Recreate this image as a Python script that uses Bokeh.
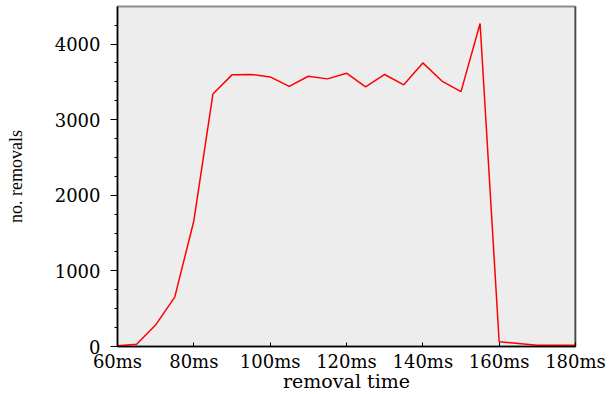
from bokeh.plotting import figure
from bokeh.models import Range1d, SingleIntervalTicker, Span
from bokeh.embed import file_html
from bokeh.resources import INLINE

# data
removal_time_ms = [60, 65, 70, 75, 80, 85, 90, 95, 100, 105, 110, 115, 120,
                   125, 130, 135, 140, 145, 150, 155, 160, 165, 170, 175, 180]
removals = [10, 30, 285, 653, 1660, 3338, 3592, 3597, 3565, 3439, 3574, 3539, 3614,
            3434, 3597, 3460, 3750, 3510, 3370, 4272, 62, 40, 17, 17, 17]
x_ticks = [60, 80, 100, 120, 140, 160, 180]
x_tick_labels = ["60ms", "80ms", "100ms", "120ms", "140ms", "160ms", "180ms"]
x_max = 180
y_max = 4496

p = figure(width=609, height=394, output_backend="svg", toolbar_location=None,
           x_range=Range1d(60, x_max), y_range=Range1d(0, y_max),
           min_border_left=117, min_border_right=34, min_border_top=6,
           min_border_bottom=46)

p.border_fill_color = "white"
p.background_fill_color = "#EDEDED"
p.outline_line_color = "#8C8C8C"
p.outline_line_width = 2
p.xgrid.visible = False
p.ygrid.visible = False

p.line(removal_time_ms, removals, line_color="#FF0000", line_width=1.5)

right_edge = Span(location=x_max, dimension="height", line_color="black",
                  line_width=1.5)
p.add_layout(right_edge)

serif_tick = "DejaVu Serif"

xa = p.xaxis[0]
xa.ticker = SingleIntervalTicker(interval=20, num_minor_ticks=0)
xa.major_label_overrides = {t: l for t, l in zip(x_ticks, x_tick_labels)}
xa.axis_label = "removal time"
xa.axis_label_text_font = serif_tick
xa.axis_label_text_font_style = "normal"
xa.axis_label_text_font_size = "19px"
xa.axis_label_text_color = "black"
xa.axis_label_standoff = -5
xa.major_label_text_font = serif_tick
xa.major_label_text_font_size = "18px"
xa.major_label_text_color = "black"
xa.major_label_standoff = 4
xa.major_tick_in = 4
xa.major_tick_out = 0
xa.minor_tick_line_color = None
xa.axis_line_color = "black"
xa.axis_line_width = 1.5
xa.major_tick_line_color = "black"

ya = p.yaxis[0]
ya.ticker = SingleIntervalTicker(interval=1000, num_minor_ticks=4)
ya.axis_label = "no. removals"
ya.axis_label_text_font = "Liberation Serif"
ya.axis_label_text_font_style = "normal"
ya.axis_label_text_font_size = "18px"
ya.axis_label_text_color = "black"
ya.axis_label_standoff = 26
ya.major_label_text_font = serif_tick
ya.major_label_text_font_size = "18px"
ya.major_label_text_color = "black"
ya.major_label_standoff = 10
ya.major_tick_in = 0
ya.major_tick_out = 7
ya.minor_tick_in = 0
ya.minor_tick_out = 3
ya.axis_line_color = "black"
ya.axis_line_width = 1.5

open("out.html", "w").write(file_html(p, INLINE))
